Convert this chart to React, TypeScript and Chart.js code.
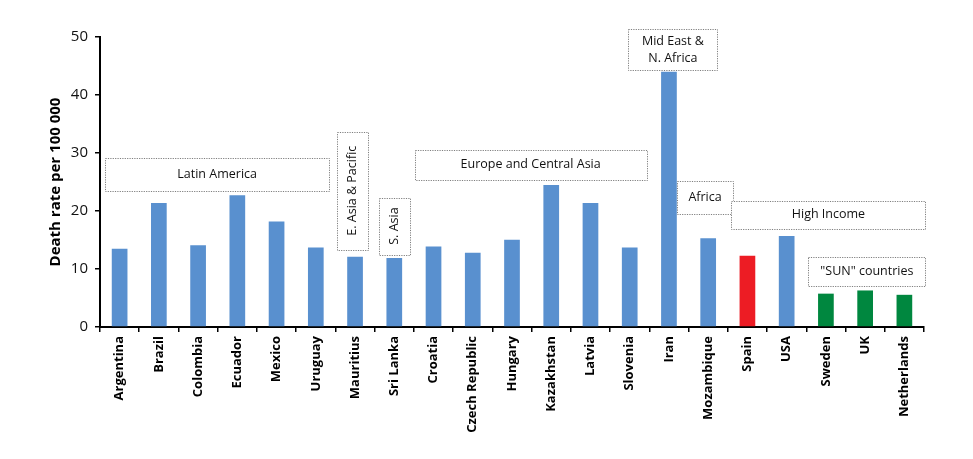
import React, { useEffect, useRef } from "react";
import { Chart, registerables } from "chart.js";

Chart.register(...registerables);

const categories = [
  "Argentina", "Brazil", "Colombia", "Ecuador", "Mexico", "Uruguay",
  "Mauritius", "Sri Lanka", "Croatia", "Czech Republic", "Hungary",
  "Kazakhstan", "Latvia", "Slovenia", "Iran", "Mozambique", "Spain",
  "USA", "Sweden", "UK", "Netherlands",
];

const deathRates = [
  13.5, 21.4, 14.1, 22.7, 18.2, 13.7,
  12.1, 11.9, 13.9, 12.8, 15.05,
  24.5, 21.4, 13.7, 44.0, 15.3, 12.3,
  15.7, 5.75, 6.3, 5.55,
];

const groupType = [
  "other", "other", "other", "other", "other", "other",
  "other", "other", "other", "other", "other",
  "other", "other", "other", "other", "other", "spain",
  "other", "sun", "sun", "sun",
];

const yTicks = [0, 10, 20, 30, 40, 50];

const colorFor: Record<string, string> = {
  other: "#5990CF",
  spain: "#ED1C24",
  sun: "#00873F",
};

// Region boxes, in category-index and value units
const regionLabels = [
  ["Latin America"],
  ["E. Asia & Pacific"],
  ["S. Asia"],
  ["Europe and Central Asia"],
  ["Mid East &", "N. Africa"],
  ["Africa"],
  ["High Income"],
  ['"SUN" countries'],
];
const regionX0 = [-0.37, 5.545, 6.6, 7.52, 12.96, 14.21, 15.59, 17.55];
const regionX1 = [5.34, 6.333, 7.4, 13.43, 15.24, 15.63, 20.54, 20.54];
const regionY0 = [29.2, 33.7, 22.3, 30.6, 51.3, 25.2, 21.8, 12.0];
const regionY1 = [23.5, 13.3, 12.5, 25.4, 44.2, 19.5, 17.0, 7.0];
const regionVertical = [false, true, true, false, false, false, false, false];

const FONT = "'Open Sans', 'Noto Sans', sans-serif";

const regionPlugin = {
  id: "regionBoxes",
  afterDraw(chart: any) {
    const { ctx } = chart;
    const xs = chart.scales.x;
    const ys = chart.scales.y;
    const step = xs.getPixelForValue(1) - xs.getPixelForValue(0);
    ctx.save();
    for (let i = 0; i < regionLabels.length; i++) {
      const x0 = xs.getPixelForValue(0) + regionX0[i] * step;
      const x1 = xs.getPixelForValue(0) + regionX1[i] * step;
      const y0 = ys.getPixelForValue(regionY0[i]);
      const y1 = ys.getPixelForValue(regionY1[i]);
      ctx.fillStyle = "#ffffff";
      ctx.fillRect(x0, y0, x1 - x0, y1 - y0);
      ctx.setLineDash([1.2, 1.2]);
      ctx.strokeStyle = "#7f7f7f";
      ctx.lineWidth = 1;
      ctx.strokeRect(Math.round(x0) + 0.5, Math.round(y0) + 0.5, Math.round(x1 - x0), Math.round(y1 - y0));
      ctx.setLineDash([]);
      ctx.fillStyle = "#111111";
      ctx.font = `12.5px ${FONT}`;
      ctx.textAlign = "center";
      ctx.textBaseline = "middle";
      const cx = (x0 + x1) / 2;
      const cy = (y0 + y1) / 2;
      const lines = regionLabels[i];
      if (regionVertical[i]) {
        ctx.save();
        ctx.translate(cx, cy);
        ctx.rotate(-Math.PI / 2);
        ctx.fillText(lines[0], 0, 0);
        ctx.restore();
      } else {
        const lh = 16.5;
        lines.forEach((t, k) => {
          ctx.fillText(t, cx, cy + (k - (lines.length - 1) / 2) * lh);
        });
      }
    }
    ctx.restore();
  },
};

export default function App() {
  const ref = useRef<HTMLCanvasElement>(null);
  useEffect(() => {
    if (!ref.current) return;
    const chart = new Chart(ref.current, {
      type: "bar",
      data: {
        labels: categories,
        datasets: [
          {
            data: deathRates,
            backgroundColor: groupType.map((g) => colorFor[g]),
            barPercentage: 0.4,
            categoryPercentage: 1,
          },
        ],
      },
      options: {
        animation: false,
        responsive: true,
        maintainAspectRatio: false,
        layout: { padding: { top: 37, right: 49, left: 0, bottom: 0 } },
        plugins: { legend: { display: false }, tooltip: { enabled: false } },
        scales: {
          x: {
            grid: {
              display: true,
              drawOnChartArea: false,
              drawTicks: true,
              tickLength: 5,
              color: "#000000",
              lineWidth: 1.5,
              offset: true,
            },
            border: { display: true, color: "#000000", width: 2 },
            ticks: {
              minRotation: 90,
              maxRotation: 90,
              autoSkip: false,
              color: "#000000",
              padding: 4,
              font: { family: FONT, size: 13, weight: "bold" },
            },
            afterFit(scale: any) {
              scale.height = 132;
            },
          },
          y: {
            min: 0,
            max: 50,
            afterBuildTicks(scale: any) {
              scale.ticks = yTicks.map((v) => ({ value: v }));
            },
            grid: {
              display: true,
              drawOnChartArea: false,
              drawTicks: true,
              tickLength: 5,
              color: "#000000",
              lineWidth: 1.5,
            },
            border: { display: true, color: "#000000", width: 2 },
            ticks: {
              color: "#111111",
              padding: 7,
              font: { family: FONT, size: 15 },
            },
            title: {
              display: true,
              text: "Death rate per 100 000",
              color: "#000000",
              font: { family: FONT, size: 15, weight: "bold" },
              padding: { top: 47, bottom: 8 },
            },
            afterFit(scale: any) {
              scale.width = 100;
            },
          },
        },
      },
      plugins: [regionPlugin],
    });
    return () => chart.destroy();
  }, []);
  return (
    <div style={{ position: "fixed", left: 0, top: 0, width: 973, height: 459, background: "#fff" }}>
      <canvas ref={ref} />
    </div>
  );
}
